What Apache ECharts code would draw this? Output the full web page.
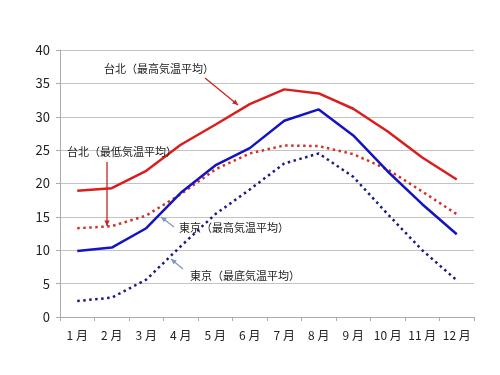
<!DOCTYPE html>
<html><head><meta charset="utf-8">
<script src="https://cdn.jsdelivr.net/npm/echarts@6/dist/echarts.min.js"></script>
<style>html,body{margin:0;padding:0;background:#fff}#c{width:500px;height:375px}</style>
</head><body><div id="c"></div>
<script>
const months = ['1 月','2 月','3 月','4 月','5 月','6 月','7 月','8 月','9 月','10 月','11 月','12 月'];
const taipeiMax = [18.9, 19.3, 21.9, 25.8, 28.8, 31.9, 34.1, 33.5, 31.2, 27.8, 23.9, 20.6];
const taipeiMin = [13.3, 13.6, 15.2, 18.4, 22.1, 24.5, 25.7, 25.6, 24.4, 22.1, 18.8, 15.4];
const tokyoMax = [9.9, 10.4, 13.3, 18.6, 22.7, 25.3, 29.4, 31.1, 27.2, 21.8, 16.9, 12.4];
const tokyoMin = [2.4, 2.9, 5.6, 10.6, 15.4, 19.1, 23.0, 24.5, 21.0, 15.4, 10.0, 5.5];
const yTicks = [0, 40, 5];

const FONT = '"Noto Sans CJK JP", sans-serif';
const chart = echarts.init(document.getElementById('c'), null, {renderer:'canvas'});

function arrow(x1,y1,x2,y2,color){
  const a = Math.atan2(y2-y1,x2-x1), L=6, w=0.45;
  return [
    {type:'line', shape:{x1,y1,x2,y2}, style:{stroke:color, lineWidth:1.3}, z:20},
    {type:'polygon', shape:{points:[[x2,y2],[x2-L*Math.cos(a-w),y2-L*Math.sin(a-w)],[x2-L*Math.cos(a+w),y2-L*Math.sin(a+w)]]}, style:{fill:color}, z:20}
  ];
}
function label(x,y,t){
  return {type:'text', x, y, style:{text:t, font:'11px '+FONT, fill:'#222', textVerticalAlign:'middle'}, z:20};
}

chart.setOption({
  animation:false,
  backgroundColor:'#fff',
  grid:{left:60, right:26, top:50, bottom:58},
  xAxis:{type:'category', data:months, boundaryGap:true,
    axisLine:{lineStyle:{color:'#aaa'}}, axisTick:{show:true, length:4, interval:0, lineStyle:{color:'#aaa'}},
    axisLabel:{color:'#222', fontSize:12, fontFamily:FONT, margin:12, interval:0}},
  yAxis:{type:'value', min:yTicks[0], max:yTicks[1], interval:yTicks[2],
    axisLine:{show:true, lineStyle:{color:'#aaa'}}, axisTick:{show:true, length:4, lineStyle:{color:'#aaa'}},
    splitLine:{lineStyle:{color:'#c4c4c4', width:1}},
    axisLabel:{color:'#222', fontSize:13, fontFamily:FONT, margin:10}},
  series:[
    {name:'台北（最高気温平均）', type:'line', data:taipeiMax, symbol:'none', lineStyle:{color:'#d91e1e', width:2.5}, z:5},
    {name:'台北（最低気温平均）', type:'line', data:taipeiMin, symbol:'none', lineStyle:{color:'#d2302a', width:2.5, type:[2.5,3.5]}, z:4},
    {name:'東京（最高気温平均）', type:'line', data:tokyoMax, symbol:'none', lineStyle:{color:'#1414c0', width:2.5}, z:6},
    {name:'東京（最底気温平均）', type:'line', data:tokyoMin, symbol:'none', lineStyle:{color:'#1a1a88', width:2.5, type:[2.5,3.5]}, z:3}
  ],
  graphic:[].concat(
    [label(104,69,'台北（最高気温平均）'), label(67,152,'台北（最低気温平均）'),
     label(179,228,'東京（最高気温平均）'), label(190,276,'東京（最底気温平均）')],
    arrow(205,78,238,105,'#cc2222'),
    arrow(107,162,107,226,'#cc2222'),
    arrow(174,227,161,217,'#7f9bbb'),
    arrow(183,269,171,259,'#7f9bbb')
  )
});
</script></body></html>
